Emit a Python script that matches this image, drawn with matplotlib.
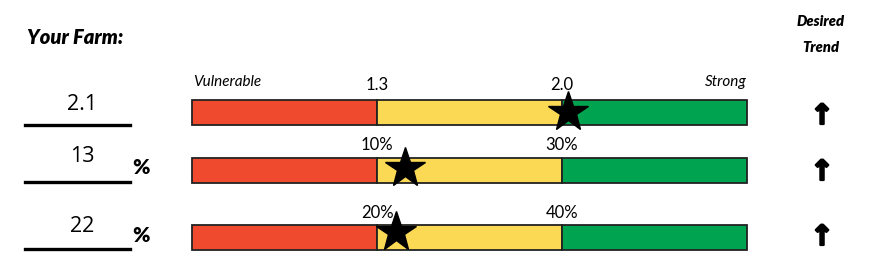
import numpy as np
import matplotlib
matplotlib.use("Agg")
import matplotlib.pyplot as plt
import matplotlib.patheffects as pe

# ---- data ----
farm_values = ["2.1", "13", "22"]
value_units = ["", "%", "%"]
star_values = [2.1, 13, 22]
thresholds = [[1.3, 2.0], [10, 30], [20, 40]]
threshold_labels = [["1.3", "2.0"], ["10%", "30%"], ["20%", "40%"]]
scale_ends = [[0.6, 5.0], [0, 50], [0, 60]]
trend = ["↑", "↑", "↑"]
segment_colors = ["#EF4A2D", "#FCD955", "#00A34F"]

W, H = 872, 273
fig = plt.figure(figsize=(W / 100, H / 100), dpi=100)
fig.patch.set_facecolor("white")

def fx(px):
    return px / W

def fy(py):
    return 1 - py / H

# title texts
fig.text(fx(27), fy(37), "Your Farm:", fontsize=14.5, fontweight="heavy",
         fontstyle="italic", family="Lato", va="center", ha="left")
fig.text(fx(821), fy(22), "Desired", fontsize=10.5, fontweight="heavy",
         fontstyle="italic", family="Lato", va="center", ha="center")
fig.text(fx(821), fy(47), "Trend", fontsize=10.5, fontweight="heavy",
         fontstyle="italic", family="Lato", va="center", ha="center")

bar_top = [100, 158, 225]
bar_h = 25
bar_x0, bar_x1 = 192, 747
label_y = [85, 145, 213]
star_dy = [0.5, 0.62, 0.72]

for i in range(3):
    ax = fig.add_axes([fx(bar_x0), fy(bar_top[i] + bar_h),
                       fx(bar_x1 - bar_x0), bar_h / H])
    ax.set_xlim(0, 3)
    ax.set_ylim(0, 1)
    ax.axis("off")
    for s in range(3):
        ax.barh(0.5, 1, left=s, height=1, color=segment_colors[s],
                edgecolor="#222222", linewidth=1.3, clip_on=False)
    bp = [scale_ends[i][0], thresholds[i][0], thresholds[i][1], scale_ends[i][1]]
    sx = np.interp(star_values[i], bp, [0, 1, 2, 3])
    ax.plot([sx], [star_dy[i]], marker="*", markersize=30, color="black",
            clip_on=False, zorder=5)
    # threshold labels
    for k in range(2):
        ax.text(k + 1, 1 + (bar_top[i] - label_y[i]) / bar_h, threshold_labels[i][k],
                ha="center", va="center", fontsize=12, family="Lato",
                transform=ax.transData)

    # left value + underline
    line_y = [125, 182, 249][i]
    fig.text(fx(82), fy([104, 157, 227][i]), farm_values[i], fontsize=15.5,
             family="Open Sans", ha="center", va="center")
    fig.add_artist(plt.Line2D([fx(25), fx(130)], [fy(line_y), fy(line_y)],
                              color="black", linewidth=2.4))
    if value_units[i]:
        fig.text(fx(141), fy([168, 235][i - 1]), value_units[i], fontsize=15,
                 fontweight="heavy", family="Lato", ha="center", va="center")
    fig.text(fx(822), fy([116, 172, 237][i]), trend[i], fontsize=20,
             fontweight="bold", family="DejaVu Sans", ha="center", va="center",
             path_effects=[pe.withStroke(linewidth=1.6, foreground="black")])

fig.text(fx(193), fy(82), "Vulnerable", fontsize=11, fontstyle="italic",
         family="Lato", ha="left", va="center")
fig.text(fx(747), fy(82), "Strong", fontsize=11, fontstyle="italic",
         family="Lato", ha="right", va="center")

fig.savefig("out.png", dpi=100, facecolor="white")
